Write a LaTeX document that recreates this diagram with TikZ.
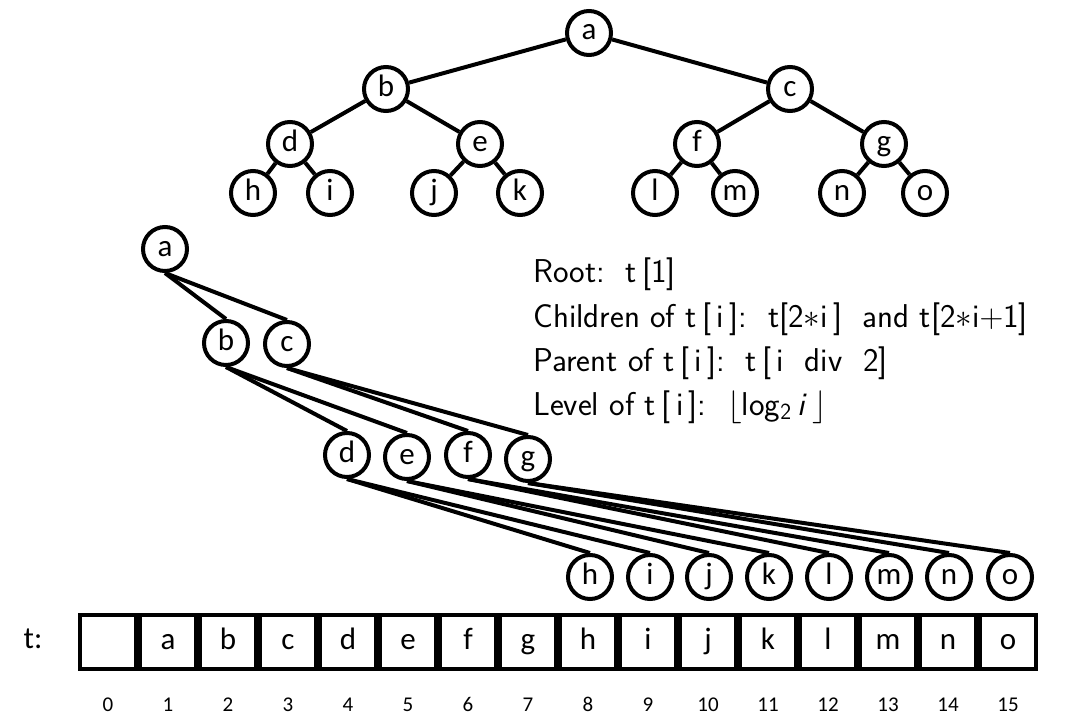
\documentclass[tikz,border=0pt]{standalone}
\usepackage{fix-cm}
\usepackage{fontspec}
\newfontfamily\carlito{Carlito}
\begin{document}
\begin{tikzpicture}[x=1pt,y=-1pt,
  lbl/.style={font=\carlito\fontsize{31}{31}\selectfont,text height=20pt,text depth=6pt},
  tn/.style={lbl,circle,draw,line width=4pt,minimum size=44pt,inner sep=0pt},
  edge/.style={line width=4pt},
  cell/.style={lbl,draw,line width=4pt,minimum width=56pt,minimum height=54pt,inner sep=0pt},
  idx/.style={font=\carlito\fontsize{21}{21}\selectfont,text height=14pt,text depth=0pt},
  info/.style={anchor=base west,inner sep=0pt,font=\sffamily\fontsize{33}{40}\selectfont}]
\useasboundingbox (0,0) rectangle (1089,725);

% binary tree
\node[tn] (ta) at (589,33) {a};
\node[tn] (tb) at (386,89) {b};
\node[tn] (tc) at (790,89) {c};
\node[tn] (td) at (290,144) {d};
\node[tn] (te) at (480,144) {e};
\node[tn] (tf) at (697,144) {f};
\node[tn] (tg) at (884,144) {g};
\node[tn] (th) at (253,193) {h};
\node[tn] (ti) at (330,193) {i};
\node[tn] (tj) at (434,193) {j};
\node[tn] (tk) at (520,193) {k};
\node[tn] (tl) at (655,193) {l};
\node[tn] (tm) at (735,193) {m};
\node[tn] (tnn) at (842,193) {n};
\node[tn] (to) at (925,193) {o};
\foreach \p/\c in {ta/tb,ta/tc,tb/td,tb/te,tc/tf,tc/tg,td/th,td/ti,te/tj,te/tk,tf/tl,tf/tm,tg/tnn,tg/to}
  \draw[edge] (\p) -- (\c);

% same tree, laid out level by level
\node[tn] (la) at (165,249) {a};
\node[tn] (lb) at (226,343) {b};
\node[tn] (lc) at (287,344) {c};
\node[tn] (ld) at (347,455) {d};
\node[tn] (le) at (407,457) {e};
\node[tn] (lf) at (468,455) {f};
\node[tn] (lg) at (528,459) {g};
\node[tn] (lh) at (590,577) {h};
\node[tn] (li) at (650,577) {i};
\node[tn] (lj) at (709,577) {j};
\node[tn] (lk) at (769,577) {k};
\node[tn] (ll) at (829,577) {l};
\node[tn] (lm) at (889,577) {m};
\node[tn] (lnn) at (949,577) {n};
\node[tn] (lo) at (1010,577) {o};
\foreach \p/\c in {la/lb,la/lc,lb/ld,lb/le,lc/lf,lc/lg,ld/lh,ld/li,le/lj,le/lk,lf/ll,lf/lm,lg/lnn,lg/lo}
  \draw[edge,line join=round] (\p.south) -- (\c.north);

% index rules
\node[info] (r1) at (533,282) {Root:\ \ t\,[1]};
\node[info] (r2) at (533,327) {Children of t\,[\,i\,]:\ \ t[2$*$i\,]\ \ and\ t[2$*$i$+$1]};
\node[info] (r3) at (533,371) {Parent of t\,[\,i\,]:\ \ t\,[\,i\ \ div\ \ 2]};
\node[info] (r4) at (533,415) {Level of t\,[\,i\,]:\ \ $\lfloor$log\textsubscript{2}\,\textit{i}\,$\rfloor$};

% array
\node[lbl] (tlab) at (33,641) {t:};
\foreach \k/\v in {0/{},1/a,2/b,3/c,4/d,5/e,6/f,7/g,8/h,9/i,10/j,11/k,12/l,13/m,14/n,15/o} {
  \node[cell] (cell\k) at ({108+60*\k},642) {\v};
  \node[idx] (idx\k) at ({108+60*\k},704) {\k};
}
\end{tikzpicture}
\end{document}
